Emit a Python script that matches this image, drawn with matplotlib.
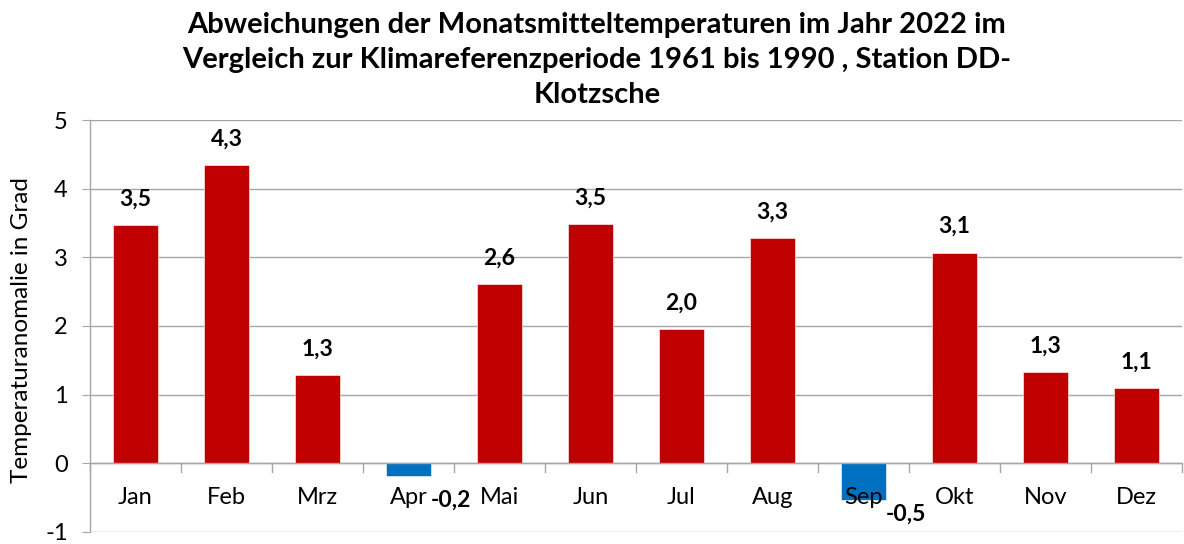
import matplotlib
matplotlib.use("Agg")
import matplotlib.pyplot as plt
import numpy as np

months = ["Jan", "Feb", "Mrz", "Apr", "Mai", "Jun", "Jul", "Aug", "Sep", "Okt", "Nov", "Dez"]
anomaly = [3.47, 4.34, 1.29, -0.19, 2.61, 3.48, 1.96, 3.28, -0.54, 3.07, 1.33, 1.10]
yticks = [-1, 0, 1, 2, 3, 4, 5]
title = ("Abweichungen der Monatsmitteltemperaturen im Jahr 2022 im\n"
         "Vergleich zur Klimareferenzperiode 1961 bis 1990 , Station DD-\n"
         "Klotzsche")
ylabel = "Temperaturanomalie in Grad"

RED = "#C00000"
BLUE = "#0070C0"
FONT = "Lato"

fig = plt.figure(figsize=(11.84, 5.44), dpi=100)
ax = fig.add_axes([90 / 1184, 1 - 532 / 544, (1182 - 90) / 1184, (532 - 120) / 544])

x = np.arange(len(months))
colors = [RED if v >= 0 else BLUE for v in anomaly]
ax.bar(x, anomaly, width=0.5, color=colors, edgecolor="white", linewidth=0.4, zorder=3)

ax.set_xlim(-0.5, len(months) - 0.5)
ax.set_ylim(-1, 5)
ax.set_yticks(yticks)
ax.set_yticklabels([str(t) for t in yticks], fontsize=17, family=FONT)
ax.yaxis.grid(True, color="#A6A6A6", linewidth=1, zorder=0)
ax.tick_params(axis="y", length=6, color="#A6A6A6", pad=10, direction="out")
ax.set_xticks([])

for s in ["top", "right", "bottom"]:
    ax.spines[s].set_visible(False)
ax.spines["left"].set_color("#A6A6A6")
ax.spines["left"].set_linewidth(1)

# zero axis line with tick marks between categories
ax.axhline(0, color="#A6A6A6", linewidth=1, zorder=4)
for b in np.arange(-0.5, len(months) + 0.5, 1):
    ax.plot([b, b], [0, -0.12], color="#A6A6A6", linewidth=1, zorder=4, clip_on=False)

# month labels just below zero line
for i, m in enumerate(months):
    ax.text(i, -0.5, m, ha="center", va="center", fontsize=17, family=FONT, zorder=6)

# value labels
neg_offsets = {3: -24, 8: -14}
for i, v in enumerate(anomaly):
    lab = f"{v:.1f}".replace(".", ",")
    if v >= 0:
        ax.annotate(lab, (i, v), xytext=(0, 26), textcoords="offset pixels",
                    ha="center", va="center", fontsize=16.5, fontweight="bold", family=FONT, zorder=7)
    else:
        ax.annotate(lab, (i + 0.47, v), xytext=(0, neg_offsets.get(i, -18)), textcoords="offset pixels",
                    ha="center", va="center", fontsize=16.5, fontweight="bold", family=FONT, zorder=7)

ax.set_ylabel(ylabel, fontsize=17.5, family=FONT)
ax.yaxis.set_label_coords(-0.053, 0.49)

fig.text(597 / 1184, 1 - 60 / 544, title, ha="center", va="center", fontsize=21,
         fontweight="bold", family=FONT, linespacing=1.45)

fig.savefig("out.png", dpi=100)
